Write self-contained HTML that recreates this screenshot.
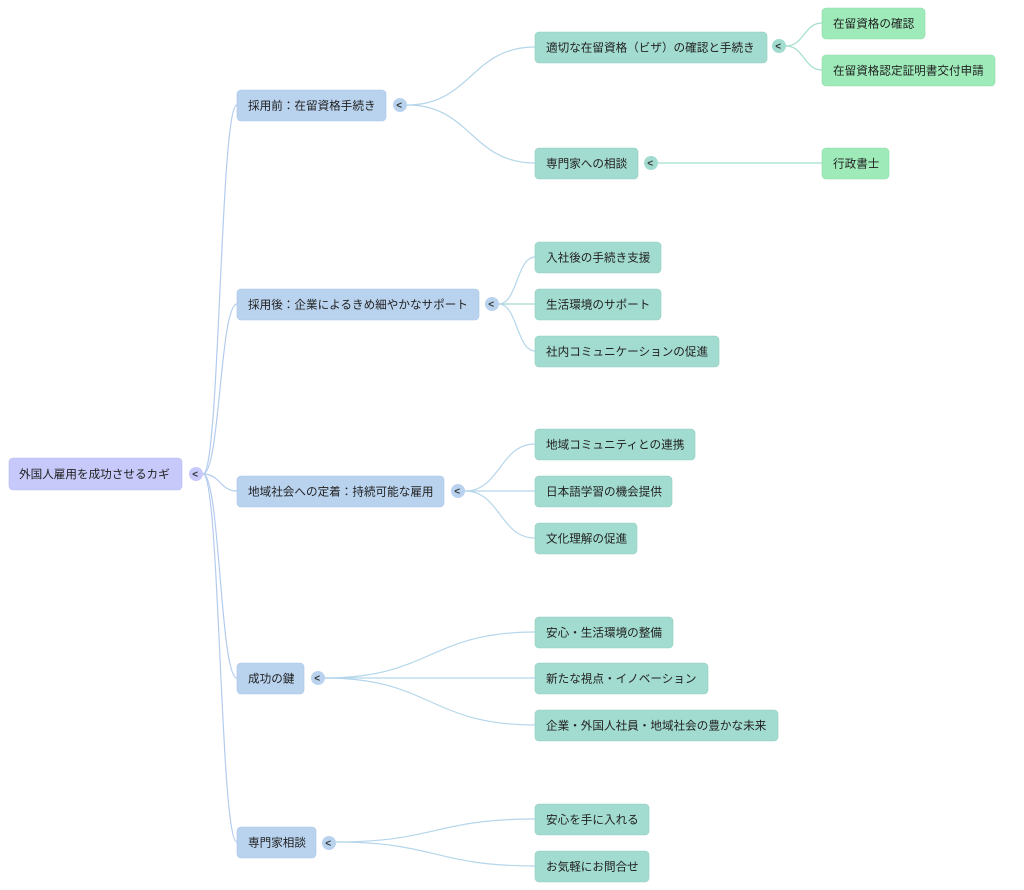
<!DOCTYPE html>
<html><head><meta charset="utf-8"><style>
html,body{margin:0;padding:0;background:#fff;}
svg{display:block;}
text{font-family:"Liberation Sans","Noto Sans CJK JP",sans-serif;font-size:11.6px;fill:#222;}
.t{font-size:10px;font-weight:bold;fill:#333;}
</style></head><body>
<svg width="1024" height="890" viewBox="0 0 1024 890" xmlns="http://www.w3.org/2000/svg">
<g fill="none" stroke-width="1.2">
<g stroke="#b3cbee">
<path d="M203,474 C220,474 220,105 237,105"/>
<path d="M203,474 C220,474 220,304 237,304"/>
<path d="M203,474 C220,474 220,491 237,491"/>
<path d="M203,474 C220,474 220,678 237,678"/>
<path d="M203,474 C220,474 220,842 237,842"/>
</g>
<g stroke="#b5d6ea">
<path d="M407,105 C471,105 471,47 535,47"/>
<path d="M407,105 C471,105 471,163 535,163"/>
<path d="M499,304 C517,304 517,257 535,257"/>
<path d="M499,304 L535,304" stroke="#a8dccf"/>
<path d="M499,304 C517,304 517,351 535,351"/>
<path d="M465,491 C500,491 500,444 535,444"/>
<path d="M465,491 L535,491"/>
<path d="M465,491 C500,491 500,538 535,538"/>
<path d="M325,678 C430,678 430,632 535,632"/>
<path d="M325,678 L535,678"/>
<path d="M325,678 C430,678 430,725 535,725"/>
<path d="M336,842 C435,842 435,819 535,819"/>
<path d="M336,842 C435,842 435,866 535,866"/>
</g>
<g stroke="#a5dfcc">
<path d="M786,46 C804,46 804,23 822,23"/>
<path d="M786,46 C804,46 804,70 822,70"/>
<path d="M658,163 L822,163"/>
</g>
</g>

<rect x="9" y="458" width="173" height="32" rx="4" fill="#c6c9fa" stroke="#b8bcf0" stroke-width="0.6"/>
<text x="19" y="478">外国人雇用を成功させるカギ</text>
<circle cx="196" cy="474" r="7" fill="#c6c9fa"/><text class="t" x="192.3" y="477.5">&lt;</text>

<g fill="#b9d3ef" stroke="#a9c5e6" stroke-width="0.6">
<rect x="237" y="90" width="149" height="31" rx="4"/>
<rect x="237" y="289" width="242" height="31" rx="4"/>
<rect x="237" y="476" width="207" height="31" rx="4"/>
<rect x="237" y="663" width="67" height="31" rx="4"/>
<rect x="237" y="827" width="79" height="31" rx="4"/>
</g>
<g fill="#b9d3ef">
<circle cx="400" cy="105" r="7"/>
<circle cx="492" cy="304" r="7"/>
<circle cx="458" cy="491" r="7"/>
<circle cx="318" cy="678" r="7"/>
<circle cx="329" cy="843" r="7"/>
</g>
<text x="248" y="109.5">採用前：在留資格手続き</text>
<text x="248" y="308.5">採用後：企業によるきめ細やかなサポート</text>
<text x="248" y="495.5">地域社会への定着：持続可能な雇用</text>
<text x="248" y="682.5">成功の鍵</text>
<text x="248" y="846.5">専門家相談</text>
<text class="t" x="396.3" y="108.5">&lt;</text>
<text class="t" x="488.3" y="307.5">&lt;</text>
<text class="t" x="454.3" y="494.5">&lt;</text>
<text class="t" x="314.3" y="681.5">&lt;</text>
<text class="t" x="325.3" y="846.5">&lt;</text>

<g fill="#a2dbcf" stroke="#93cfc2" stroke-width="0.6">
<rect x="535" y="32" width="232" height="31" rx="4"/>
<rect x="535" y="148" width="103" height="31" rx="4"/>
<rect x="535" y="242" width="126" height="31" rx="4"/>
<rect x="535" y="289" width="126" height="31" rx="4"/>
<rect x="535" y="336" width="184" height="31" rx="4"/>
<rect x="535" y="429" width="160" height="31" rx="4"/>
<rect x="535" y="476" width="137" height="31" rx="4"/>
<rect x="535" y="523" width="102" height="31" rx="4"/>
<rect x="535" y="617" width="138" height="31" rx="4"/>
<rect x="535" y="663" width="173" height="31" rx="4"/>
<rect x="535" y="710" width="243" height="31" rx="4"/>
<rect x="535" y="804" width="114" height="31" rx="4"/>
<rect x="535" y="851" width="114" height="31" rx="4"/>
</g>
<g fill="#a2dbcf">
<circle cx="779" cy="46" r="7"/>
<circle cx="651" cy="163" r="7"/>
</g>
<text class="t" x="775.3" y="49.5">&lt;</text>
<text class="t" x="647.3" y="166.5">&lt;</text>
<text x="546" y="51.5">適切な在留資格（ビザ）の確認と手続き</text>
<text x="546" y="167.5">専門家への相談</text>
<text x="546" y="261.5">入社後の手続き支援</text>
<text x="546" y="308.5">生活環境のサポート</text>
<text x="546" y="355.5">社内コミュニケーションの促進</text>
<text x="546" y="448.5">地域コミュニティとの連携</text>
<text x="546" y="495.5">日本語学習の機会提供</text>
<text x="546" y="542.5">文化理解の促進</text>
<text x="546" y="636.5">安心・生活環境の整備</text>
<text x="546" y="682.5">新たな視点・イノベーション</text>
<text x="546" y="729.5">企業・外国人社員・地域社会の豊かな未来</text>
<text x="546" y="823.5">安心を手に入れる</text>
<text x="546" y="870.5">お気軽にお問合せ</text>

<g fill="#9eebb9" stroke="#8edca9" stroke-width="0.6">
<rect x="822" y="8" width="103" height="31" rx="4"/>
<rect x="822" y="55" width="173" height="31" rx="4"/>
<rect x="822" y="148" width="67" height="31" rx="4"/>
</g>
<text x="833" y="27.5">在留資格の確認</text>
<text x="833" y="74.5">在留資格認定証明書交付申請</text>
<text x="833" y="167.5">行政書士</text>
</svg>
</body></html>
